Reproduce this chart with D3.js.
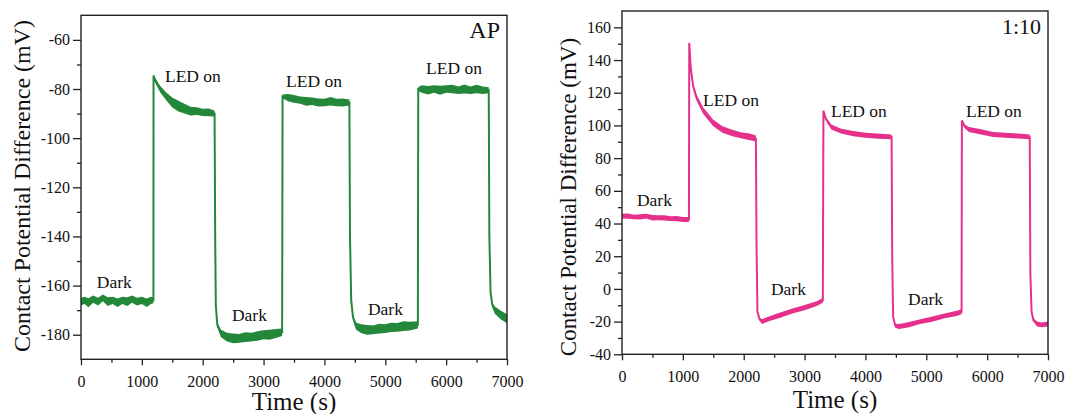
<html>
<head>
    <meta charset="utf-8">
    <style>
        body { margin: 0; background: white; }
        svg text { font-family: "Liberation Serif", "Times New Roman", serif; fill: #111; }
    </style>
    <script src="https://cdn.jsdelivr.net/npm/d3@7"></script>
</head>
<body>
<svg id="chart" width="1065" height="414"></svg>
<script>
// AP sample (left panel): time (s), CPD (mV), half width of the noise band (mV)
let apTime = [0, 60, 120, 200, 280, 360, 440, 520, 600, 680, 760, 840, 920, 1000, 1080, 1150, 1190,
    1192, 1230, 1300, 1400, 1500, 1600, 1700, 1800, 1900, 2000, 2100, 2195,
    2205, 2215, 2240, 2300, 2400, 2500, 2600, 2700, 2800, 2900, 3000, 3100, 3200, 3305,
    3312, 3400, 3500, 3600, 3700, 3800, 3900, 4000, 4100, 4200, 4300, 4410,
    4420, 4440, 4470, 4520, 4600, 4700, 4800, 4900, 5000, 5100, 5200, 5300, 5400, 5535,
    5542, 5600, 5700, 5800, 5900, 6000, 6100, 6200, 6300, 6400, 6500, 6600, 6700,
    6710, 6730, 6760, 6800, 6900, 7000]
let apCpd = [-166.5, -166, -167, -165.5, -166.5, -165, -166.5, -166, -167, -166, -166.5, -165.5, -166.5, -166, -167, -166, -166,
    -74.5, -77, -80, -83, -85.5, -87, -88, -89, -89, -89.5, -89.5, -90,
    -140, -168, -176, -179.5, -181, -181.5, -181.5, -181, -181, -180.5, -180, -180, -179.5, -179,
    -83, -83.5, -84, -84.5, -85, -85, -85.5, -85.5, -85, -85.5, -85.5, -85.5,
    -140, -166, -173, -176.5, -177.5, -178, -178, -177.5, -177.5, -177, -177, -176.5, -176.5, -176,
    -80, -80, -80.5, -80, -80.5, -80, -80, -80.5, -80, -80.5, -80, -80.5, -80.5,
    -140, -163, -168, -170, -172, -173.5]
let apNoise = [1.5, 1.5, 1.8, 1.5, 1.6, 1.4, 1.8, 1.5, 1.7, 1.5, 1.8, 1.5, 1.6, 1.5, 1.7, 1.5, 1.2,
    0.5, 1, 1.3, 1.6, 2, 2.2, 2, 1.8, 1.6, 1.5, 1.6, 1.2,
    0, 0.5, 1, 1.5, 1.8, 2, 1.8, 2, 1.8, 1.9, 1.8, 2, 1.8, 1.5,
    0.8, 1.5, 1.6, 1.5, 1.8, 1.5, 1.6, 1.5, 1.7, 1.5, 1.6, 1.2,
    0, 0.5, 1, 1.5, 1.8, 2, 1.8, 2, 1.8, 1.9, 1.8, 2, 1.8, 1.5,
    0.8, 1.5, 1.7, 1.5, 1.8, 1.5, 1.7, 1.5, 1.8, 1.5, 1.7, 1.5, 1.2,
    0, 0.5, 1, 1.5, 1.8, 1.8]

// 1:10 sample (right panel)
let mixTime = [0, 100, 200, 300, 400, 500, 600, 700, 800, 900, 1000, 1100,
    1105, 1130, 1170, 1225, 1335, 1500, 1650, 1800, 1950, 2100, 2200,
    2210, 2225, 2260, 2300, 2400, 2600, 2800, 3000, 3200, 3300,
    3310, 3350, 3440, 3600, 3800, 4000, 4200, 4430,
    4440, 4455, 4490, 4550, 4700, 4900, 5100, 5300, 5500, 5580,
    5585, 5630, 5700, 5900, 6100, 6300, 6500, 6700,
    6710, 6730, 6760, 6820, 6900, 7000]
let mixCpd = [44.5, 44.5, 44, 44, 44.5, 43.5, 43.5, 43.5, 43, 43, 42.5, 42.5,
    150.5, 135, 124, 117, 109, 101.5, 97.5, 95.5, 94, 93, 92,
    30, -14, -18.5, -20, -18.5, -16, -13.5, -11.5, -9, -7,
    109, 104, 99, 96.5, 95, 94, 93.5, 93,
    20, -17, -22.5, -23, -22, -20, -18.5, -16.5, -15, -14,
    103, 99.5, 97.5, 96, 94.5, 94, 93.5, 93,
    10, -14, -19, -21.5, -22, -21.5]
let mixNoise = [1.5, 1.6, 1.4, 1.6, 1.5, 1.7, 1.5, 1.6, 1.4, 1.6, 1.5, 1.5,
    0.5, 1, 1.5, 1.8, 2, 2, 2, 2, 1.9, 2, 1.8,
    0, 0.5, 1, 1.5, 1.5, 1.6, 1.5, 1.6, 1.5, 1.5,
    0.5, 1, 1.5, 1.5, 1.6, 1.5, 1.6, 1.5,
    0, 0.5, 1.2, 1.5, 1.6, 1.5, 1.6, 1.5, 1.6, 1.5,
    0.5, 1, 1.5, 1.6, 1.5, 1.6, 1.5, 1.5,
    0, 0.5, 1, 1.5, 1.5, 1.5]

let xTicks = [0, 1000, 2000, 3000, 4000, 5000, 6000, 7000]
let apTicks = [-180, -160, -140, -120, -100, -80, -60]
let mixTicks = [-40, -20, 0, 20, 40, 60, 80, 100, 120, 140, 160]

let noteText = ["Dark", "LED on", "Dark", "LED on", "Dark", "LED on"]
let apNoteTime = [260, 1380, 2480, 3370, 4715, 5670]
let apNoteCpd = [-161, -77, -174.5, -79, -172, -74]
let mixNoteTime = [246, 1331, 2448, 3434, 4700, 5652]
let mixNoteCpd = [51, 111.6, -3.8, 104.9, -9.9, 104.9]

const serif = '"Liberation Serif", "Times New Roman", serif'
let svg = d3.select('#chart')

function drawPanel(cfg) {
    let { left, right, top, bottom, yDomain, yTicks, time, cpd, noise, color, tag, noteTime, noteCpd, titleX, titleY, titleSize, xTitleY } = cfg
    let xScale = d3.scaleLinear().domain([0, 7000]).range([left, right])
    let yScale = d3.scaleLinear().domain(yDomain).range([bottom, top])
    let g = svg.append('g')

    let pts = time.map((t, i) => ({ t: t, v: cpd[i], n: noise[i] }))

    // noise band
    let band = d3.area()
        .x(d => xScale(d.t))
        .y0(d => yScale(d.v - d.n))
        .y1(d => yScale(d.v + d.n))
    g.append('path').datum(pts).attr('d', band).attr('fill', color)

    let line = d3.line().x(d => xScale(d.t)).y(d => yScale(d.v))
    g.append('path').datum(pts).attr('d', line)
        .attr('fill', 'none').attr('stroke', color).attr('stroke-width', 2)

    // frame
    g.append('rect')
        .attr('x', left).attr('y', top)
        .attr('width', right - left).attr('height', bottom - top)
        .attr('fill', 'none').attr('stroke', '#222').attr('stroke-width', 1.4)

    // minor ticks
    let xMinor = d3.range(500, 7000, 1000)
    g.append('g')
        .attr('transform', `translate(0,${bottom})`)
        .call(d3.axisBottom(xScale).tickValues(xMinor).tickSize(3.5).tickFormat(''))
        .call(a => a.select('.domain').remove())
    let yMinor = yTicks.map(v => v - 10).filter(v => v > yDomain[0])
    yMinor.push(yTicks[yTicks.length - 1] + 10)
    yMinor = yMinor.filter(v => v < yDomain[1])
    g.append('g')
        .attr('transform', `translate(${left},0)`)
        .call(d3.axisLeft(yScale).tickValues(yMinor).tickSize(4).tickFormat(''))
        .call(a => a.select('.domain').remove())

    // major ticks, plain hyphen for negatives like the original
    let fmt = d => String(d)
    let xAxis = g.append('g')
        .attr('transform', `translate(0,${bottom})`)
        .call(d3.axisBottom(xScale).tickValues(xTicks).tickSize(6).tickPadding(10).tickFormat(fmt))
    let yAxis = g.append('g')
        .attr('transform', `translate(${left},0)`)
        .call(d3.axisLeft(yScale).tickValues(yTicks).tickSize(8).tickPadding(3).tickFormat(fmt))
    for (let a of [xAxis, yAxis]) {
        a.attr('font-family', serif).attr('font-size', 16)
        a.select('.domain').remove()
        a.selectAll('text').style('font-family', serif).style('font-size', '16px').attr('fill', '#111')
    }
    g.selectAll('.tick line').attr('stroke', '#222').attr('stroke-width', 1.3)

    // notes
    noteText.forEach((txt, i) => {
        g.append('text')
            .attr('x', xScale(noteTime[i])).attr('y', yScale(noteCpd[i]))
            .style('font-size', '17.5px').text(txt)
    })
    g.append('text')
        .attr('x', right - 7).attr('y', top + 23)
        .attr('text-anchor', 'end').style('font-size', tag.size).text(tag.text)

    // axis titles
    g.append('text')
        .attr('x', (left + right) / 2).attr('y', xTitleY)
        .attr('text-anchor', 'middle').style('font-size', '25px').text('Time (s)')
    g.append('text')
        .attr('transform', `translate(${titleX},${titleY}) rotate(-90)`)
        .attr('text-anchor', 'middle').style('font-size', titleSize)
        .text('Contact Potential Difference (mV)')
}

drawPanel({
    left: 81, right: 507, top: 15.3, bottom: 359.3,
    yDomain: [-190, -50], yTicks: apTicks,
    time: apTime, cpd: apCpd, noise: apNoise, color: '#23883a',
    tag: { text: 'AP', size: '24px' },
    noteTime: apNoteTime, noteCpd: apNoteCpd,
    titleX: 30, titleY: 186, titleSize: '24px', xTitleY: 410
})

drawPanel({
    left: 622, right: 1048, top: 11, bottom: 354.3,
    yDomain: [-40, 170], yTicks: mixTicks,
    time: mixTime, cpd: mixCpd, noise: mixNoise, color: '#e5318c',
    tag: { text: '1:10', size: '22px' },
    noteTime: mixNoteTime, noteCpd: mixNoteCpd,
    titleX: 576, titleY: 197, titleSize: '23px', xTitleY: 408
})
</script>
</body>
</html>
